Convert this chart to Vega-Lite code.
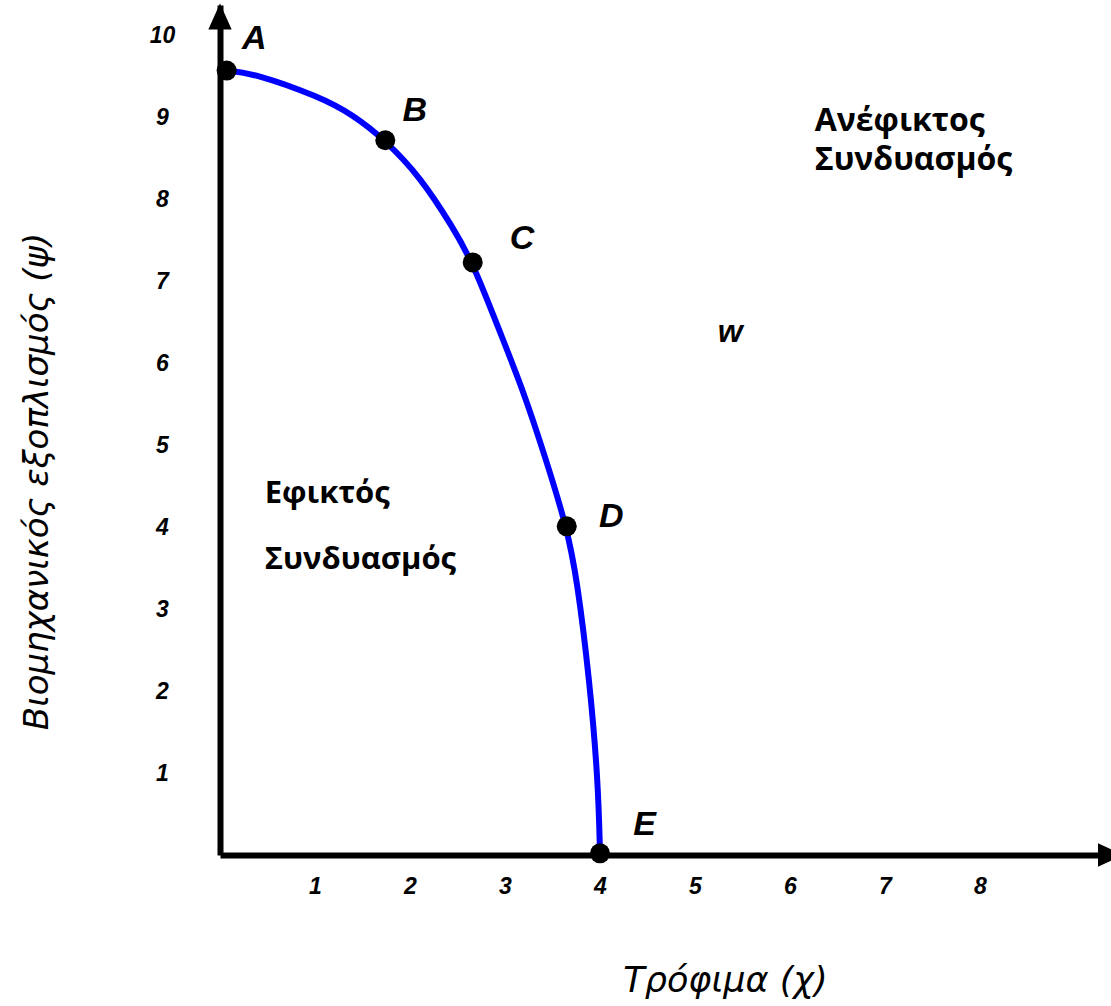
{
  "$schema": "https://vega.github.io/schema/vega-lite/v6.json",
  "width": 891,
  "height": 850,
  "autosize": {"type": "none"},
  "padding": {"left": 220, "top": 5, "right": 0, "bottom": 151},
  "background": "white",
  "config": {"view": {"stroke": null}},
  "datasets": {
    "curve": [
      {"x": 0.07, "y": 9.57},
      {"x": 0.35, "y": 9.54},
      {"x": 1.05, "y": 9.25},
      {"x": 1.40, "y": 9.03},
      {"x": 1.74, "y": 8.72},
      {"x": 2.11, "y": 8.27},
      {"x": 2.45, "y": 7.66},
      {"x": 2.66, "y": 7.23},
      {"x": 2.95, "y": 6.37},
      {"x": 3.19, "y": 5.67},
      {"x": 3.40, "y": 4.94},
      {"x": 3.65, "y": 4.01},
      {"x": 3.76, "y": 3.35},
      {"x": 3.89, "y": 2.13},
      {"x": 3.98, "y": 0.91},
      {"x": 4.00, "y": 0.02}
    ],
    "points": [
      {"name": "A", "x": 0.07, "y": 9.57, "lx": 0.36, "ly": 9.96},
      {"name": "B", "x": 1.74, "y": 8.72, "lx": 2.05, "ly": 9.08},
      {"name": "C", "x": 2.66, "y": 7.23, "lx": 3.18, "ly": 7.52},
      {"name": "D", "x": 3.65, "y": 4.01, "lx": 4.12, "ly": 4.12},
      {"name": "E", "x": 4.00, "y": 0.02, "lx": 4.47, "ly": 0.37}
    ],
    "regions": [
      {"text": "Εφικτός", "x": 0.47, "y": 4.41, "side": "left"},
      {"text": "Συνδυασμός", "x": 0.47, "y": 3.60, "side": "left"},
      {"text": "Ανέφικτος", "x": 6.26, "y": 8.96, "side": "right"},
      {"text": "Συνδυασμός", "x": 6.26, "y": 8.48, "side": "right"}
    ],
    "arrows": [
      {"axis": "y", "x": 0, "y": 10.23},
      {"axis": "x", "x": 9.379, "y": 0}
    ]
  },
  "layer": [
    {
      "data": {"name": "curve"},
      "mark": {"type": "line", "color": "#0000FF", "strokeWidth": 6, "interpolate": "basis"},
      "encoding": {
        "x": {
          "field": "x", "type": "quantitative",
          "scale": {"domain": [0, 9.379], "nice": false, "zero": false},
          "axis": {
            "values": [1, 2, 3, 4, 5, 6, 7, 8],
            "format": "d",
            "title": "Τρόφιμα (χ)",
            "grid": false,
            "ticks": false,
            "tickSize": 0,
            "domainColor": "black",
            "domainWidth": 6,
            "labelFont": "Liberation Sans",
            "labelFontSize": 23,
            "labelFontStyle": "italic",
            "labelFontWeight": "bold",
            "labelColor": "black",
            "labelPadding": 20,
            "titleFont": "DejaVu Sans",
            "titleFontSize": 35,
            "titleFontStyle": "italic",
            "titleFontWeight": "normal",
            "titleColor": "black",
            "titleX": 505,
            "titleY": 125,
            "titleAlign": "center",
            "titleBaseline": "middle"
          }
        },
        "y": {
          "field": "y", "type": "quantitative",
          "scale": {"domain": [0, 10.37], "nice": false, "zero": false},
          "axis": {
            "values": [1, 2, 3, 4, 5, 6, 7, 8, 9, 10],
            "format": "d",
            "title": "Βιομηχανικός εξοπλισμός (ψ)",
            "grid": false,
            "ticks": false,
            "tickSize": 0,
            "domainColor": "black",
            "domainWidth": 6,
            "labelFont": "Liberation Sans",
            "labelFontSize": 23,
            "labelFontStyle": "italic",
            "labelFontWeight": "bold",
            "labelColor": "black",
            "labelAlign": "center",
            "labelPadding": 58,
            "titleFont": "DejaVu Sans",
            "titleFontSize": 34,
            "titleFontStyle": "italic",
            "titleFontWeight": "normal",
            "titleColor": "black",
            "titleX": -183,
            "titleY": 476,
            "titleAngle": -90,
            "titleAlign": "center",
            "titleBaseline": "middle"
          }
        }
      }
    },
    {
      "data": {"name": "arrows"},
      "transform": [{"filter": "datum.axis == 'y'"}],
      "mark": {"type": "point", "filled": true, "color": "black", "opacity": 1, "size": 676, "shape": "M0,-1L0.9,1L-0.9,1Z"},
      "encoding": {
        "x": {"field": "x", "type": "quantitative"},
        "y": {"field": "y", "type": "quantitative"}
      }
    },
    {
      "data": {"name": "arrows"},
      "transform": [{"filter": "datum.axis == 'x'"}],
      "mark": {"type": "point", "filled": true, "color": "black", "opacity": 1, "size": 676, "shape": "M1,0L-1,0.9L-1,-0.9Z"},
      "encoding": {
        "x": {"field": "x", "type": "quantitative"},
        "y": {"field": "y", "type": "quantitative"}
      }
    },
    {
      "data": {"name": "points"},
      "mark": {"type": "circle", "color": "black", "opacity": 1, "size": 400},
      "encoding": {
        "x": {"field": "x", "type": "quantitative"},
        "y": {"field": "y", "type": "quantitative"}
      }
    },
    {
      "data": {"name": "points"},
      "mark": {"type": "text", "font": "Liberation Sans", "fontSize": 34, "fontStyle": "italic", "fontWeight": "bold", "color": "black", "align": "center", "baseline": "middle"},
      "encoding": {
        "x": {"field": "lx", "type": "quantitative"},
        "y": {"field": "ly", "type": "quantitative"},
        "text": {"field": "name"}
      }
    },
    {
      "data": {"values": [{"text": "w", "x": 5.37, "y": 6.38}]},
      "mark": {"type": "text", "font": "Liberation Sans", "fontSize": 32, "fontStyle": "italic", "fontWeight": "bold", "color": "black", "align": "center", "baseline": "middle"},
      "encoding": {
        "x": {"field": "x", "type": "quantitative"},
        "y": {"field": "y", "type": "quantitative"},
        "text": {"field": "text"}
      }
    },
    {
      "data": {"name": "regions"},
      "transform": [{"filter": "datum.side == 'left'"}],
      "mark": {"type": "text", "font": "Open Sans", "fontSize": 31, "fontWeight": "bold", "color": "black", "align": "left", "baseline": "middle"},
      "encoding": {
        "x": {"field": "x", "type": "quantitative"},
        "y": {"field": "y", "type": "quantitative"},
        "text": {"field": "text"}
      }
    },
    {
      "data": {"name": "regions"},
      "transform": [{"filter": "datum.side == 'right'"}],
      "mark": {"type": "text", "font": "Open Sans", "fontSize": 32, "fontWeight": "bold", "color": "black", "align": "left", "baseline": "middle"},
      "encoding": {
        "x": {"field": "x", "type": "quantitative"},
        "y": {"field": "y", "type": "quantitative"},
        "text": {"field": "text"}
      }
    }
  ]
}
